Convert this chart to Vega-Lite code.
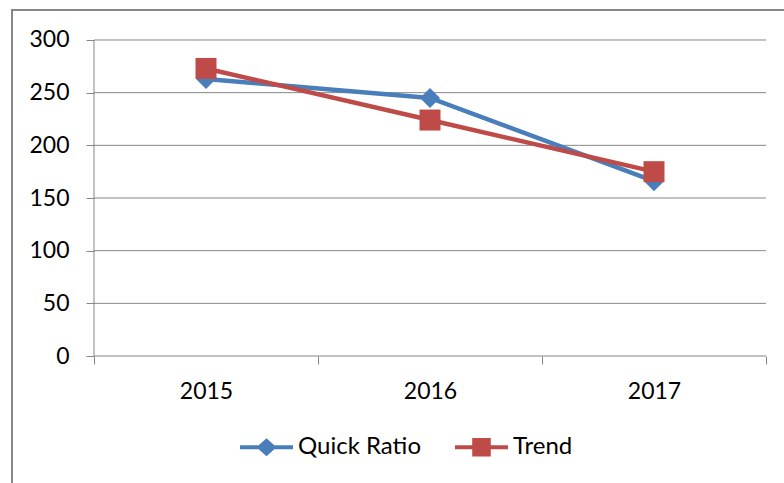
{
  "$schema": "https://vega.github.io/schema/vega-lite/v6.json",
  "width": 782,
  "height": 483,
  "autosize": {"type": "none"},
  "padding": {"left": 12, "top": 10, "right": -10, "bottom": -10},
  "background": "white",
  "config": {
    "view": {"stroke": "#868686", "strokeWidth": 2},
    "font": "Lato"
  },
  "datasets": {
    "series": [
      {"year": 2015, "value": 263, "series": "Quick Ratio"},
      {"year": 2016, "value": 245, "series": "Quick Ratio"},
      {"year": 2017, "value": 166, "series": "Quick Ratio"},
      {"year": 2015, "value": 273, "series": "Trend"},
      {"year": 2016, "value": 224, "series": "Trend"},
      {"year": 2017, "value": 175, "series": "Trend"}
    ],
    "grid": [
      {"level": 0}, {"level": 50}, {"level": 100}, {"level": 150},
      {"level": 200}, {"level": 250}, {"level": 300}
    ]
  },
  "layer": [
    {
      "data": {"name": "grid"},
      "mark": {"type": "rule", "color": "#868686", "strokeWidth": 1},
      "encoding": {
        "x": {
          "datum": 2014.5,
          "type": "quantitative",
          "scale": {"domain": [2014.13393, 2017.625], "nice": false, "zero": false},
          "axis": {
            "values": [2014.5, 2015, 2015.5, 2016, 2016.5, 2017, 2017.5],
            "offset": -137,
            "domain": false,
            "grid": false,
            "tickSize": 8,
            "tickColor": "#868686",
            "tickWidth": 1,
            "tickOpacity": {"condition": {"test": "datum.value % 1 === 0", "value": 0}, "value": 1},
            "labelExpr": "datum.value % 1 === 0 ? '' + datum.value : ''",
            "labelFont": "Lato",
            "labelFontSize": 23,
            "labelColor": "black",
            "labelPadding": 16,
            "labelFlush": false,
            "labelOverlap": false,
            "title": null
          }
        },
        "x2": {"datum": 2017.5},
        "y": {
          "field": "level",
          "type": "quantitative",
          "scale": {"domain": [-130.06, 328.48], "nice": false, "zero": false},
          "axis": {
            "values": [0, 50, 100, 150, 200, 250, 300],
            "offset": -82,
            "domain": false,
            "grid": false,
            "tickSize": 8,
            "tickColor": "#868686",
            "tickWidth": 1,
            "labelFont": "Lato",
            "labelFontSize": 23,
            "labelColor": "black",
            "labelPadding": 17,
            "labelFlush": false,
            "labelOverlap": false,
            "title": null
          }
        }
      }
    },
    {
      "data": {"values": [{"a": 1}]},
      "mark": {"type": "rule", "color": "#868686", "strokeWidth": 1},
      "encoding": {
        "x": {"datum": 2014.5, "type": "quantitative"},
        "y": {"datum": 0, "type": "quantitative"},
        "y2": {"datum": 300}
      }
    },
    {
      "data": {"name": "series"},
      "mark": {"type": "line", "strokeWidth": 4.5},
      "encoding": {
        "x": {"field": "year", "type": "quantitative"},
        "y": {"field": "value", "type": "quantitative"},
        "color": {
          "field": "series",
          "type": "nominal",
          "scale": {"domain": ["Quick Ratio", "Trend"], "range": ["#4A7EBB", "#BE4B48"]},
          "legend": {
            "orient": "none",
            "legendX": 228,
            "legendY": 410.5,
            "direction": "horizontal",
            "title": null,
            "padding": 0,
            "symbolSize": 2809,
            "symbolStrokeWidth": 0,
            "labelFont": "Lato",
            "labelFontSize": 24,
            "labelColor": "black",
            "labelOffset": 5,
            "columnPadding": 34,
            "encode": {
              "symbols": {
                "update": {
                  "shape": {"signal": "datum.value === 'Quick Ratio' ? 'M-1,-0.08L1,-0.08L1,0.08L-1,0.08Z M0,-0.34L0.38,0L0,0.34L-0.38,0Z' : 'M-1,-0.08L1,-0.08L1,0.08L-1,0.08Z M-0.35,-0.35L0.35,-0.35L0.35,0.35L-0.35,0.35Z'"},
                  "fill": {"signal": "datum.value === 'Quick Ratio' ? '#4A7EBB' : '#BE4B48'"},
                  "fillOpacity": {"value": 1},
                  "opacity": {"value": 1},
                  "strokeWidth": {"value": 0}
                }
              }
            }
          }
        }
      }
    },
    {
      "data": {"name": "series"},
      "transform": [{"filter": "datum.series === 'Quick Ratio'"}],
      "mark": {"type": "point", "filled": true, "opacity": 1, "size": 400, "shape": "diamond", "color": "#4A7EBB"},
      "encoding": {
        "x": {"field": "year", "type": "quantitative"},
        "y": {"field": "value", "type": "quantitative"}
      }
    },
    {
      "data": {"name": "series"},
      "transform": [{"filter": "datum.series === 'Trend'"}],
      "mark": {"type": "point", "filled": true, "opacity": 1, "size": 441, "shape": "square", "color": "#BE4B48"},
      "encoding": {
        "x": {"field": "year", "type": "quantitative"},
        "y": {"field": "value", "type": "quantitative"}
      }
    }
  ]
}
